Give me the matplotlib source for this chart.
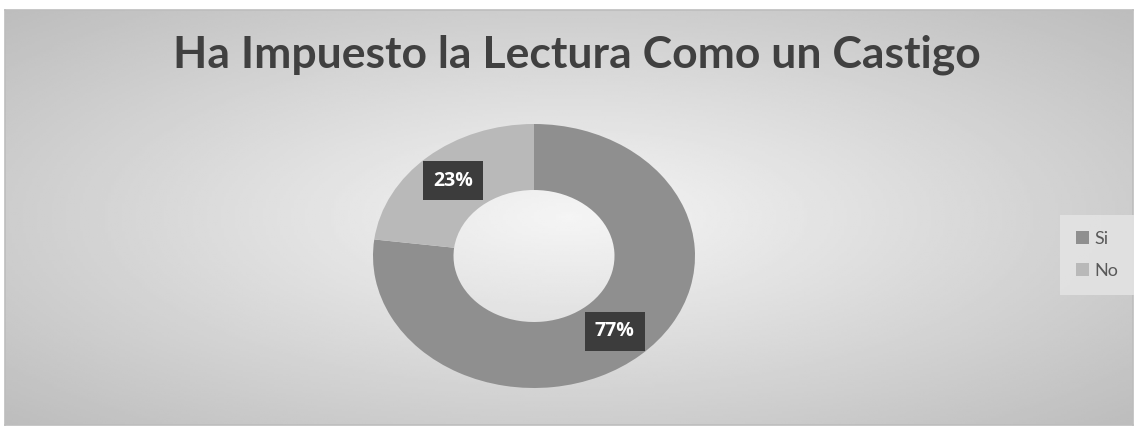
import numpy as np
import matplotlib.pyplot as plt

categories = ["Si", "No"]
values = [77, 23]
colors = ["#8f8f8f", "#b9b9b9"]
title = "Ha Impuesto la Lectura Como un Castigo"

W, H = 1138, 430
fig = plt.figure(figsize=(W / 100, H / 100), dpi=100)
fig.patch.set_facecolor("white")

# -------- background panel with radial gradient --------
x0, y0, x1, y1 = 5, 10, 1133, 425
bg = fig.add_axes([x0 / W, 1 - y1 / H, (x1 - x0) / W, (y1 - y0) / H])
gx, gy = np.meshgrid(np.linspace(-1, 1, 400), np.linspace(-1, 1, 200))
r = np.sqrt(gx**2 + gy**2) / np.sqrt(2)
shade = 0.96 - 0.22 * r
bg.imshow(shade, cmap="gray", vmin=0, vmax=1, aspect="auto", extent=[0, 1, 0, 1])
bg.set_xlim(0, 1)
bg.set_ylim(0, 1)
bg.set_xticks([])
bg.set_yticks([])
for s in bg.spines.values():
    s.set_color("#bdbdbd")
    s.set_linewidth(1.2)

fig.text(577 / W, 1 - 55 / H, title, ha="center", va="center",
         fontsize=32, fontweight="bold", color="#404040", family="Lato")

# -------- Donut --------
cx, cy, rx, ry = 534, 256, 161, 132
ax = fig.add_axes([(cx - rx) / W, 1 - (cy + ry) / H, 2 * rx / W, 2 * ry / H])
ax.set_facecolor("none")
wedges, _, autotexts = ax.pie(values, colors=colors, startangle=90, counterclock=False,
                              autopct="%d%%", pctdistance=0.76,
                              wedgeprops=dict(width=0.5, linewidth=0),
                              textprops=dict(color="white", fontsize=14, fontweight="bold",
                                             family="Open Sans"))
for t in autotexts:
    t.set_bbox(dict(boxstyle="square,pad=0.5", facecolor="#3c3c3c", edgecolor="none"))
ax.set_aspect("auto")
ax.set_xlim(-1, 1)
ax.set_ylim(-1, 1)
ax.axis("off")

# -------- Legend --------
leg = fig.legend(wedges, categories, loc="center", bbox_to_anchor=(1097 / W, 1 - 255 / H),
                 frameon=True, handlelength=0.7, handleheight=0.7,
                 handletextpad=0.3, labelspacing=0.9, borderpad=0.6,
                 prop=dict(family="Lato", size=13))
leg.get_frame().set_facecolor("#e3e3e3")
leg.get_frame().set_edgecolor("none")
leg.get_frame().set_alpha(0.9)
leg.get_frame().set_boxstyle("square")
for t in leg.get_texts():
    t.set_color("#595959")

fig.savefig("out.png", dpi=100)
